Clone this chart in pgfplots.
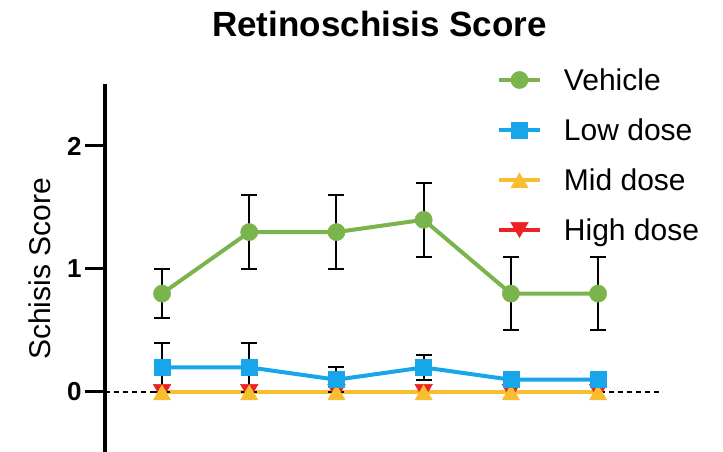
\documentclass[border=0pt]{standalone}
\usepackage{fontspec}
\setmainfont{Liberation Sans}
\usepackage{pgfplots}
\usepackage{pgfplotstable}
\pgfplotsset{compat=1.18}

\definecolor{vehgreen}{RGB}{122,180,76}
\definecolor{lowblue}{RGB}{24,166,234}
\definecolor{midyellow}{RGB}{247,190,48}
\definecolor{highred}{RGB}{237,34,36}

% time point index, mean score, error
\pgfplotstableread{
x y e
0 0.8 0.2
1 1.3 0.3
2 1.3 0.3
3 1.4 0.3
4 0.8 0.3
5 0.8 0.3
}\vehicle
\pgfplotstableread{
x y e
0 0.2 0.2
1 0.2 0.2
2 0.1 0.1
3 0.2 0.1
4 0.1 0.0
5 0.1 0.0
}\lowdose
\pgfplotstableread{
x y
0 0
1 0
2 0
3 0
4 0
5 0
}\middose
\pgfplotstableread{
x y
0 0
1 0
2 0
3 0
4 0
5 0
}\highdose

\begin{document}
\begin{tikzpicture}[x=1pt,y=1pt]
\useasboundingbox (0,0) rectangle (723,452);
\node[font=\fontsize{35}{35}\selectfont\bfseries, anchor=base] at (379.5,415) {Retinoschisis Score};
\begin{axis}[
  at={(105pt,-1.5pt)}, anchor=south west,
  scale only axis, width=555pt, height=369pt,
  xmin=-0.654, xmax=5.71, ymin=-0.5, ymax=2.5,
  axis x line=none, axis y line*=left,
  axis line style={line width=3.5pt, black, -},
  ytick={0,1,2}, tick align=outside, major tick length=20pt,
  ytick style={line width=3pt, black},
  yticklabel style={font=\fontsize{26}{26}\selectfont\bfseries},
  /pgf/number format/assume math mode=true,
  ylabel={Schisis Score},
  ylabel style={font=\fontsize{30}{30}\selectfont, at={(axis description cs:-0.117,0.5)}, anchor=center},
  clip=false,
  reverse legend,
  legend cell align=left,
  legend style={draw=none, fill=none, at={(axis description cs:0.7063,1.0488)}, anchor=north west,
    inner sep=0pt, outer sep=0pt, font=\fontsize{30}{30}\selectfont, row sep=23pt,
    nodes={inner sep=0pt, text height=24pt, text depth=3pt},
    /tikz/every odd column/.append style={column sep=22pt}},
  legend image code/.code={\draw[#1, mark repeat=2, mark phase=2] plot coordinates {(0pt,0pt) (20.5pt,0pt) (41pt,0pt)};},
]
% zero reference line
\addplot[black, line width=1.2pt, dash pattern=on 5pt off 4pt, forget plot] coordinates {(-0.654,0) (5.71,0)};

\addplot[highred, line width=3.7pt, mark=triangle*, mark size=10pt, mark options={solid, yshift=2.5pt, rotate=180, line width=0.5pt}]
  table[x=x, y=y] {\highdose};
\addlegendentry{High dose}

\addplot[midyellow, line width=3.7pt, mark=triangle*, mark size=10pt, mark options={solid, yshift=-3pt, line width=0.5pt}]
  table[x=x, y=y] {\middose};
\addlegendentry{Mid dose}

% error bars of the first four low-dose points
\addplot[draw=none, forget plot, error bars/.cd, y dir=both, y explicit,
  error bar style={black, line width=2pt}, error mark options={black, rotate=90, mark size=8pt, line width=2pt}]
  table[x=x, y=y, y error=e] {
x y e
0 0.2 0.2
1 0.2 0.2
2 0.1 0.1
3 0.2 0.1
};

\addplot[lowblue, line width=4pt, mark=square*, mark size=8pt, mark options={solid, line width=0.5pt}]
  table[x=x, y=y] {\lowdose};
\addlegendentry{Low dose}

\addplot[vehgreen, line width=4pt, mark=*, mark size=8.6pt, mark options={solid, line width=0.5pt},
  error bars/.cd, y dir=both, y explicit,
  error bar style={black, line width=2pt}, error mark options={black, rotate=90, mark size=8pt, line width=2pt}]
  table[x=x, y=y, y error=e] {\vehicle};
\addlegendentry{Vehicle}
\end{axis}
\end{tikzpicture}
\end{document}
